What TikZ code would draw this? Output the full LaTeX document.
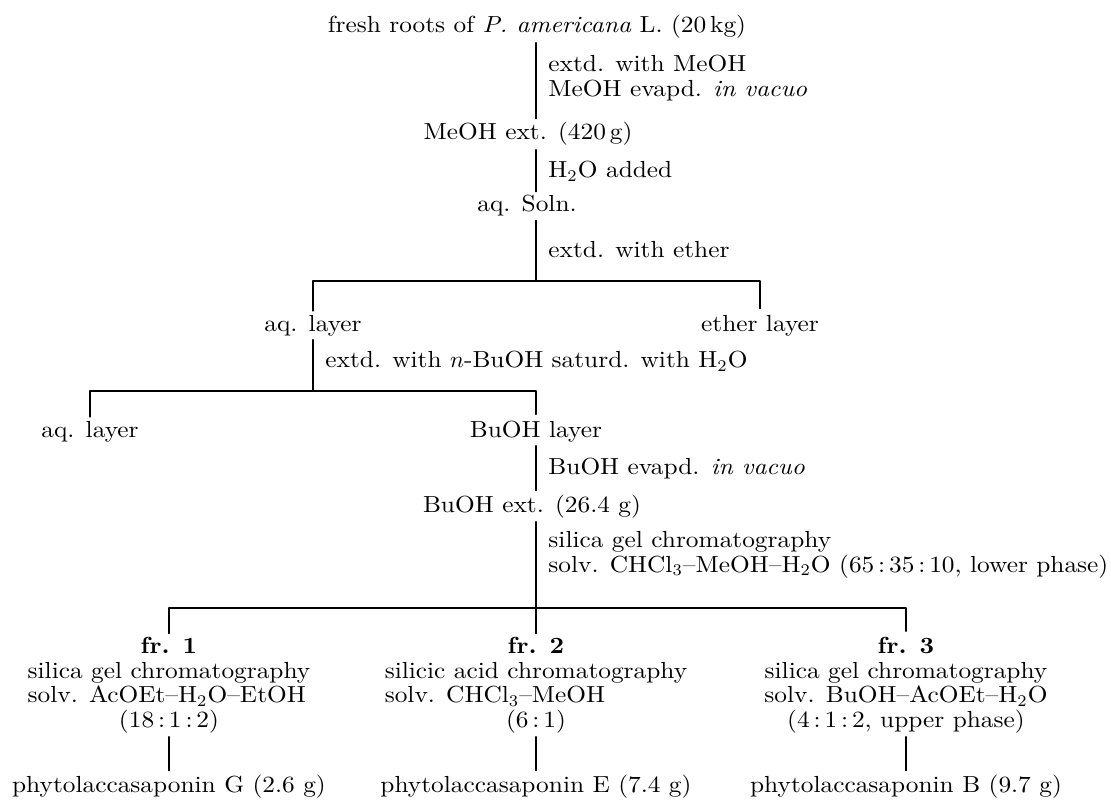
\documentclass[tikz,border=0pt]{standalone}
\usepackage{amsmath}
\usepackage{calc}
\usepackage{fontspec}
\setmainfont{lmroman10}[Extension=.otf,UprightFont=*-regular,ItalicFont=*-italic,
  BoldFont=*-bold,BoldItalicFont=*-bolditalic,FakeStretch=1.09]
\usepackage{tikz}
\usetikzlibrary{positioning,calc}
\tikzset{
  every picture/.append style={line cap=round,line join=round},
  sep text/.style={inner sep=0pt,font=\fontsize{10}{10.5}\selectfont},
  sep step/.style={sep text,anchor=base},
  sep note/.style={sep text,anchor=base west},
  sep long note/.style={sep text,anchor=west,align=left},
  sep frac/.style={sep text,anchor=north,align=center},
  sep rule/.style={line width=0.6pt,shorten <=1.5pt,shorten >=1.5pt},
  sep drop/.style={line width=0.6pt,shorten <=1.5pt,shorten >=2.5pt}
}

\begin{document}
\begin{tikzpicture}[x=0.43pt,y=-0.43pt]
\useasboundingbox (0,0) rectangle (1111,805);
\coordinate (cx) at (536,0);
\coordinate (split1) at (536,281);
\coordinate (split2) at (313,391);
\coordinate (split3) at (536,608);

% main line of the work-up
\node[sep step] (root) at (537,33) {fresh roots of \textit{P. americana} L. (20\,kg)};
\node[sep long note] (note1) at (548,78) {extd. with MeOH\\MeOH evapd. \textit{in vacuo}};
\node[sep step] (meoh) at (528,140) {MeOH ext. (420\,g)};
\node[sep note] (note2) at (548,178) {H$_2$O added};
\node[sep step] (aqsoln) at (527,212) {aq. Soln.};
\node[sep note] (note3) at (548,258) {extd. with ether};
\node[sep step] (aqlayer) at (313,331) {aq. layer};
\node[sep step] (etherlayer) at (760,331) {ether layer};
\node[sep note] (note4) at (325,368) {extd. with $n$-BuOH saturd. with H$_2$O};
\node[sep step] (aqrest) at (90,437) {aq. layer};
\node[sep step] (buohlayer) at (536,437) {BuOH layer};
\node[sep note] (note5) at (548,474) {BuOH evapd. \textit{in vacuo}};
\node[sep step] (buohext) at (532,512) {BuOH ext. (26.4 g)};
\node[sep long note] (note6) at (548,555)
  {silica gel chromatography\\solv. CHCl$_3$--MeOH--H$_2$O (65\,:\,35\,:\,10, lower phase)};

% fractions
\node[sep frac] (fr1) at (169,637) {{\bfseries fr. 1}\\silica gel chromatography\\
  \makebox[\widthof{silica gel chromatography}][l]{solv. AcOEt--H$_2$O--EtOH}\\(18\,:\,1\,:\,2)};
\node[sep frac] (fr2) at (536,637) {{\bfseries fr. 2}\\silicic acid chromatography\\
  \makebox[\widthof{silicic acid chromatography}][l]{solv. CHCl$_3$--MeOH}\\(6\,:\,1)};
\node[sep frac] (fr3) at (906,637) {{\bfseries fr. 3}\\silica gel chromatography\\
  solv. BuOH--AcOEt--H$_2$O\\(4\,:\,1\,:\,2, upper phase)};
\node[sep step] (sap1) at (169,792) {phytolaccasaponin G (2.6 g)};
\node[sep step] (sap2) at (536,792) {phytolaccasaponin E (7.4 g)};
\node[sep step] (sap3) at (906,792) {phytolaccasaponin B (9.7 g)};

% connectors
\draw[sep rule] (root.south -| cx) -- (meoh.north -| cx);
\draw[sep rule] (meoh.south -| cx) -- (aqsoln.north -| cx);
\draw[sep rule,shorten >=0pt] (aqsoln.south -| cx) -- (split1);
\draw[sep drop] (aqlayer.north) -- (aqlayer.north |- split1)
  -- (etherlayer.north |- split1) -- (etherlayer.north);
\draw[sep rule,shorten >=0pt] (aqlayer.south) -- (split2);
\draw[sep drop] (aqrest.north) -- (aqrest.north |- split2)
  -- (buohlayer.north |- split2) -- (buohlayer.north);
\draw[sep rule] (buohlayer.south -| cx) -- (buohext.north -| cx);
\draw[sep rule] (buohext.south -| cx) -- (fr2.north);
\draw[sep drop] (fr1.north) -- (fr1.north |- split3)
  -- (fr3.north |- split3) -- (fr3.north);
\foreach \i in {1,2,3}
  \draw[sep rule] (fr\i.south) -- (sap\i.north);
\end{tikzpicture}
\end{document}
